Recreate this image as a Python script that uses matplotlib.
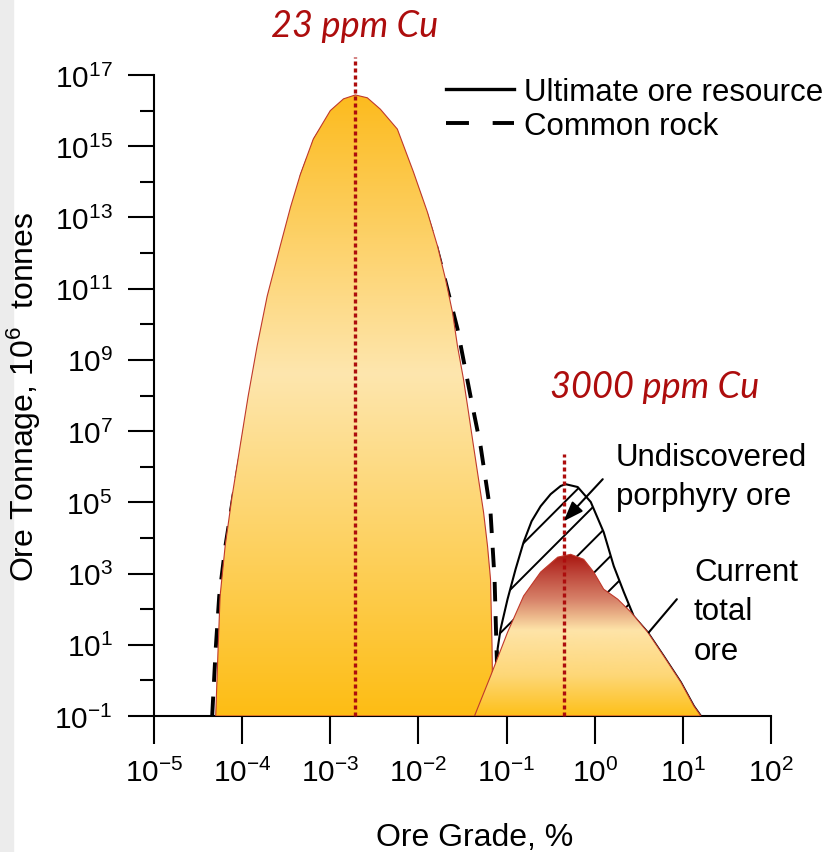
import numpy as np
import matplotlib.pyplot as plt
from matplotlib.colors import LinearSegmentedColormap
from matplotlib.lines import Line2D
from matplotlib.patches import Rectangle
from matplotlib import ticker

plt.rcParams['font.family'] = ['Liberation Sans', 'DejaVu Sans']
plt.rcParams['mathtext.fontset'] = 'custom'
for k in ['rm', 'it', 'bf', 'sf']:
    plt.rcParams['mathtext.' + k] = 'Liberation Sans'
plt.rcParams['mathtext.default'] = 'regular'
plt.rcParams['hatch.linewidth'] = 1.4

# all curves as log10(grade, %) and log10(tonnage, 10^6 t)
rock_fill_lg = [-4.30, -4.273, -4.25, -4.193, -4.114, -4.023, -3.932, -3.83, -3.716, -3.568,
                -3.45, -3.341, -3.193, -3.0, -2.85, -2.716, -2.58, -2.432, -2.239, -2.057,
                -1.898, -1.784, -1.693, -1.614, -1.557, -1.489, -1.432, -1.375, -1.318, -1.261,
                -1.216, -1.182, -1.165, -1.155]
rock_fill_lt = [-1.0, 0.88, 2.37, 3.77, 5.17, 6.58, 7.98, 9.39, 10.79, 12.2,
                13.3, 14.2, 15.2, 16.0, 16.33, 16.44, 16.36, 16.04, 15.48, 14.28,
                13.15, 12.2, 11.27, 10.34, 9.39, 8.46, 7.53, 6.58, 5.65, 4.72,
                3.77, 2.84, 1.0, -1.0]

# common rock (dashed)
common_lg = [-4.34, -4.30, -4.26, -4.19, -4.10, -4.00, -3.905, -3.80, -3.69, -3.54,
             -3.32, -3.17, -2.98, -2.716, -2.45, -2.26, -2.08, -1.92, -1.80, -1.70,
             -1.557, -1.409, -1.295, -1.182, -1.136, -1.114, -1.09]
common_lt = [-1.0, 0.88, 2.37, 3.77, 5.17, 6.58, 7.98, 9.39, 10.79, 12.2,
             14.2, 15.2, 15.95, 16.36, 15.98, 15.4, 14.25, 13.15, 12.2, 11.27,
             9.87, 7.98, 6.58, 4.72, 2.84, 0.88, -1.0]

# ultimate ore resource, porphyry lobe (solid outline, hatched)
ultimate_lg = [-1.09, -1.102, -1.068, -0.989, -0.898, -0.807, -0.716, -0.614, -0.5, -0.386,
               -0.33, -0.193, -0.045, 0.102, 0.216, 0.33, 0.443, 0.602, 0.784, 0.977,
               1.125, 1.205]
ultimate_lt = [-1.0, 0.88, 1.44, 2.28, 3.12, 3.88, 4.47, 4.89, 5.23, 5.46,
               5.51, 5.43, 5.01, 4.16, 3.21, 2.48, 1.80, 1.35, 0.68, -0.05,
               -0.72, -1.0]

# current total ore
current_lg = [-1.364, -1.182, -0.989, -0.807, -0.614, -0.42, -0.273, -0.125, -0.011, 0.102,
              0.261, 0.409, 0.602, 0.784, 0.977, 1.125, 1.205]
current_lt = [-1.0, 0.12, 1.35, 2.37, 3.04, 3.46, 3.54, 3.40, 3.04, 2.56,
              2.28, 1.92, 1.35, 0.68, -0.05, -0.72, -1.0]

# mode markers
mode_grade = [0.0019, 0.45]
mode_top = [10**17.5, 10**6.35]
mode_labels = ['23 ppm Cu', '3000 ppm Cu']
mode_label_y = [10**18.38, 10**8.24]
mode_label_x = [0.0019, 10**0.682]

x_exps = list(range(-5, 3))
y_exps = list(range(-1, 18, 2))
y_minor_exps = list(range(0, 17, 2))

red = '#ad0d0d'

fig = plt.figure(figsize=(8.36, 8.53), dpi=100)
fig.patches.append(Rectangle((0, 0), 13 / 836, 1, transform=fig.transFigure,
                             color='#ececec', zorder=-5))
ax = fig.add_axes([154 / 836, 1 - 717 / 853, 617 / 836, 641 / 853])
ax.set_xscale('log')
ax.set_yscale('log')
ax.set_xlim(1e-5, 1e2)
ax.set_ylim(1e-1, 1e17)
ax.set_autoscale_on(False)


def gradient_fill(lg, lt, stops, z, edge):
    xs = 10.0 ** np.array(lg)
    ys = 10.0 ** np.array(lt)
    poly, = ax.fill(xs, ys, facecolor='none', edgecolor=edge, lw=0.8, zorder=z + 0.1)
    cmap = LinearSegmentedColormap.from_list('grad', stops)
    y0, y1 = np.log10(ax.get_ylim())
    top = (max(lt) - y0) / (y1 - y0)
    im = ax.imshow(np.linspace(0, 1, 256).reshape(-1, 1), cmap=cmap, origin='lower',
                   aspect='auto', extent=(0, 1, 0, top), transform=ax.transAxes, zorder=z)
    im.set_clip_path(poly)


# common rock dashed curve, under the fill
ax.plot(10.0 ** np.array(common_lg), 10.0 ** np.array(common_lt), color='k', lw=2.8,
        dashes=(5.0, 3.8), zorder=2)

gradient_fill(rock_fill_lg, rock_fill_lt,
              [(0.0, '#fdbd14'), (0.55, '#fee6ae'), (1.0, '#fcbb1e')], 3, '#c0392b')

# hatched undiscovered porphyry ore
ax.fill(10.0 ** np.array(ultimate_lg), 10.0 ** np.array(ultimate_lt), facecolor='none',
        edgecolor='k', linewidth=0, hatch='/', zorder=2)
ax.plot(10.0 ** np.array(ultimate_lg), 10.0 ** np.array(ultimate_lt), color='k', lw=1.5,
        zorder=3.5)

gradient_fill(current_lg, current_lt,
              [(0.0, '#fdc019'), (0.25, '#fed777'), (0.53, '#fee4a8'), (0.72, '#d78269'),
               (0.88, '#be463a'), (1.0, '#a9150f')], 4, '#c0392b')

for g, t in zip(mode_grade, mode_top):
    ax.plot([g, g], [1e-1, t], color=red, lw=2.4, linestyle=(0, (1.2, 0.9)),
            zorder=6, clip_on=False)
for lab, lx, ly in zip(mode_labels, mode_label_x, mode_label_y):
    ax.text(lx, ly, lab, ha='center', va='center', fontsize=26, style='italic',
            family='Lato', color=red)

# annotations
ax.annotate('', xy=(10**-0.352, 10**4.47), xytext=(10**0.091, 10**5.65),
            arrowprops=dict(arrowstyle='-|>,head_length=0.6,head_width=0.22', color='k',
                            lw=1.5, mutation_scale=20, shrinkA=0, shrinkB=0), zorder=7)
ax.text(10**0.239, 10**6.69, 'Undiscovered\nporphyry ore', ha='left', va='top',
        fontsize=22.5, linespacing=1.4)
ax.annotate('', xy=(10**0.614, 10**1.35), xytext=(10**0.932, 10**2.28),
            arrowprops=dict(arrowstyle='-', color='k', lw=1.5, shrinkA=0, shrinkB=0),
            zorder=7)
ax.text(10**1.125, 10**3.46, 'Current\ntotal\nore', ha='left', va='top',
        fontsize=22.5, linespacing=1.4)

# legend
handles = [Line2D([], [], color='k', lw=2.4),
           Line2D([], [], color='k', lw=2.8, dashes=(5.9, 6.1))]
ax.legend(handles, ['Ultimate ore resource', 'Common rock'], loc='upper left',
          bbox_to_anchor=(446 / 836, 1 - 78 / 853), bbox_transform=fig.transFigure,
          frameon=False, fontsize=22.5, borderpad=0, borderaxespad=0,
          handlelength=2.18, handletextpad=0.3, labelspacing=0.14)

# axes
ax.set_xticks([10.0 ** e for e in x_exps])
ax.xaxis.set_minor_locator(ticker.NullLocator())
ax.set_yticks([10.0 ** e for e in y_exps])
ax.set_yticks([10.0 ** e for e in y_minor_exps], minor=True)
ax.yaxis.set_minor_formatter(ticker.NullFormatter())
ax.tick_params(axis='y', which='major', direction='out', length=18.7, width=1.5,
               pad=11, labelsize=21.5)
ax.tick_params(axis='y', which='minor', direction='out', length=10, width=1.5)
ax.tick_params(axis='x', which='major', direction='out', length=20, width=1.5,
               pad=10, labelsize=21.5)
for s in ['top', 'right']:
    ax.spines[s].set_visible(False)
for s in ['left', 'bottom']:
    ax.spines[s].set_linewidth(1.5)

ax.set_ylabel('Ore Tonnage, $10^6$  tonnes', fontsize=23)
ax.yaxis.set_label_coords(-0.18, 0.5)
ax.set_xlabel('Ore Grade, %', fontsize=23)
ax.xaxis.set_label_coords(0.52, -0.165)

ax.set_xlim(1e-5, 1e2)
ax.set_ylim(1e-1, 1e17)

fig.savefig('out.png', dpi=100)
